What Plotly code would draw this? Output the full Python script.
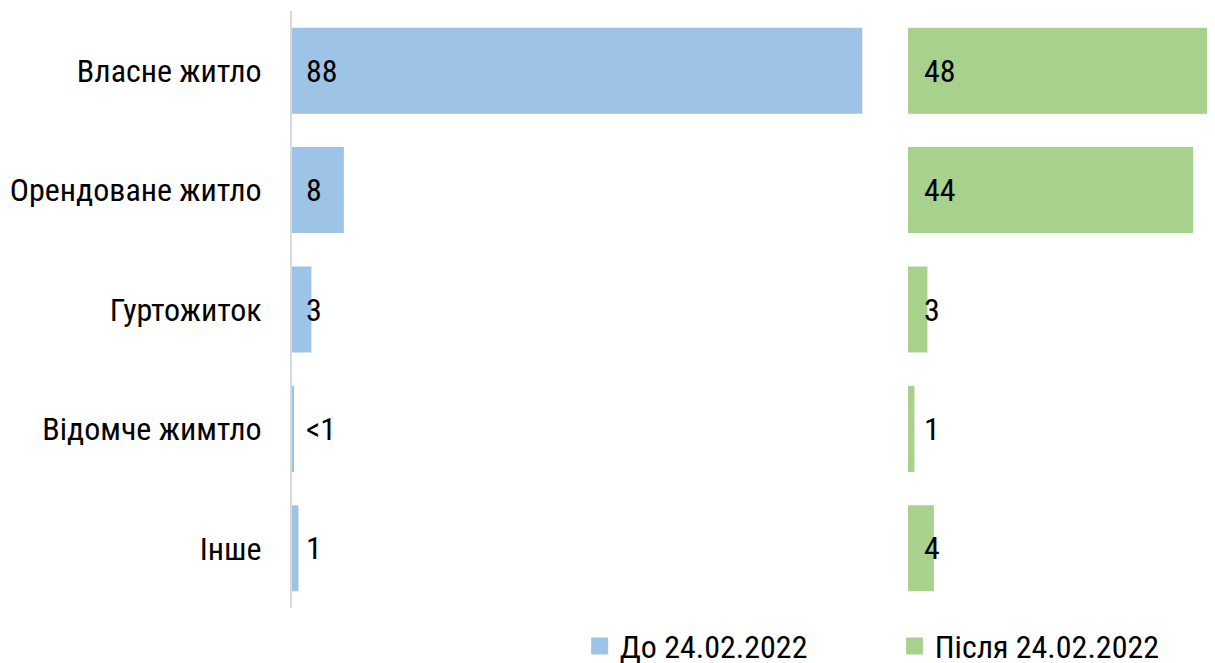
import plotly.graph_objects as go

categories = ["Власне житло", "Орендоване житло", "Гуртожиток", "Відомче жимтло", "Інше"]
before_values = [88, 8, 3, 0.3, 1]
before_labels = ["88", "8", "3", "<1", "1"]
after_values = [48, 44, 3, 1, 4]
after_labels = ["48", "44", "3", "1", "4"]
series_names = ["До 24.02.2022", "Після 24.02.2022"]

BLUE = "#9DC3E6"
GREEN = "#A9D18E"
FONT = "Roboto Condensed, Liberation Sans Narrow, DejaVu Sans Condensed, Roboto, sans-serif"
FS = 32

W, H = 1215, 663
L, R, T, B = 284, 0, 3, 63
pw = W - L - R
split = (900 - L) / pw

fig = go.Figure()
fig.add_trace(go.Bar(y=categories, x=before_values, orientation="h", name=series_names[0],
                     marker=dict(color=BLUE, line=dict(width=0)), width=0.72,
                     xaxis="x", yaxis="y", hoverinfo="skip", showlegend=False))
fig.add_trace(go.Bar(y=categories, x=after_values, orientation="h", name=series_names[1],
                     marker=dict(color=GREEN, line=dict(width=0)), width=0.72,
                     xaxis="x2", yaxis="y2", hoverinfo="skip", showlegend=False))
# legend entries with square swatches
for name, col in zip(series_names, [BLUE, GREEN]):
    fig.add_trace(go.Scatter(x=[None], y=[None], mode="markers", name=name,
                             marker=dict(symbol="square", size=16, color=col,
                                         line=dict(width=1, color=col)),
                             xaxis="x", yaxis="y", hoverinfo="skip"))

annotations = []
for cat, lab in zip(categories, before_labels):
    annotations.append(dict(x=0, y=cat, xref="x", yref="y", text=lab, showarrow=False,
                            xanchor="left", xshift=12, font=dict(size=FS, color="#000000", family=FONT)))
for cat, lab in zip(categories, after_labels):
    annotations.append(dict(x=0, y=cat, xref="x2", yref="y2", text=lab, showarrow=False,
                            xanchor="left", xshift=14, font=dict(size=FS, color="#000000", family=FONT)))

fig.update_layout(
    width=W, height=H,
    margin=dict(l=L, r=R, t=T, b=B, autoexpand=False),
    paper_bgcolor="white", plot_bgcolor="white",
    font=dict(family=FONT, size=FS, color="#000000"),
    barmode="group",
    showlegend=True,
    legend=dict(orientation="h", x=0.309, y=-0.064, xanchor="left", yanchor="middle",
                font=dict(size=FS, family=FONT, color="#000000"),
                entrywidth=270, entrywidthmode="pixels", itemsizing="trace",
                bgcolor="rgba(0,0,0,0)"),
    xaxis=dict(domain=[0, split], range=[0, 95.06], showgrid=False, zeroline=False,
               showticklabels=False, ticks=""),
    xaxis2=dict(domain=[split, 1], range=[0, 48.6], showgrid=False, zeroline=False,
                showticklabels=False, ticks=""),
    yaxis=dict(domain=[0, 1], autorange="reversed", showgrid=False, zeroline=False,
               showline=True, linecolor="#D9D9D9", linewidth=2, ticks="",
               ticklabelstandoff=22, tickfont=dict(size=FS, family=FONT)),
    yaxis2=dict(domain=[0, 1], autorange="reversed", showgrid=False, zeroline=False,
                showline=False, showticklabels=False, ticks="", anchor="x2"),
    annotations=annotations,
)

fig.write_html("out.html")
